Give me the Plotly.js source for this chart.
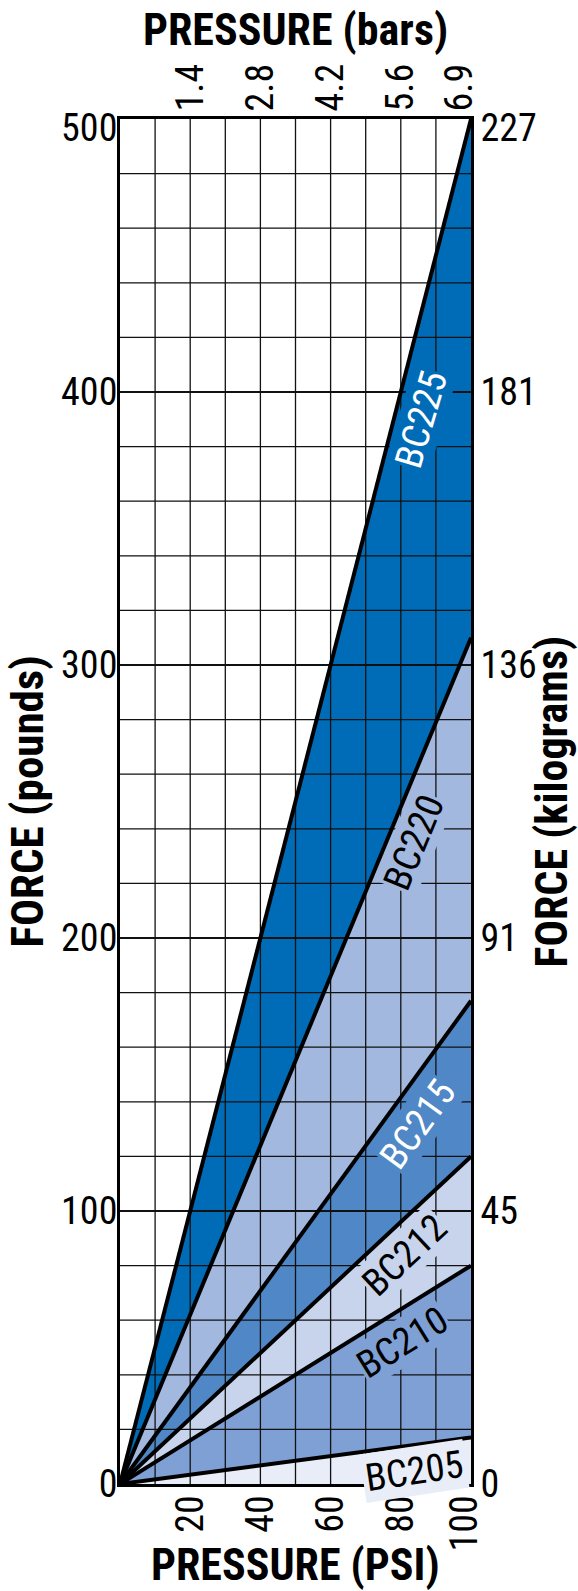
<!DOCTYPE html>
<html>
<head>
<meta charset="utf-8">
<script src="https://cdn.plot.ly/plotly-3.0.1.min.js"></script>
<style>
  html, body { margin: 0; padding: 0; background: #ffffff; }
  #chart { width: 578px; height: 1591px; }
</style>
</head>
<body>
<div id="chart"></div>
<script>
// Bellows cylinder force vs. supply pressure
const models = ['BC205', 'BC210', 'BC212', 'BC215', 'BC220', 'BC225'];
const forceAt100psi = [17, 80, 120, 177, 310, 500];   // pounds of force at 100 PSI
const psiPoints = [0, 100];

const psiTicks = [20, 40, 60, 80, 100];
const psiLabels = ['20', '40', '60', '80', '100'];
const barLabels = ['1.4', '2.8', '4.2', '5.6', '6.9'];
const lbTicks = [0, 100, 200, 300, 400, 500];
const lbLabels = ['0', '100', '200', '300', '400', '500'];
const kgLabels = ['0', '45', '91', '136', '181', '227'];

// styling
const FONT = "'Roboto Condensed', 'Liberation Sans', sans-serif";
const MARGIN = {l: 120, r: 107, t: 119, b: 107};
const W = 578, H = 1591;
const plotW = W - MARGIN.l - MARGIN.r, plotH = H - MARGIN.t - MARGIN.b;
const bandColors = ['#e9edf7', '#7fa0d4', '#c7d4ec', '#5087c6', '#a3b8df', '#006cb7'];
const labelColors = ['#000', '#000', '#000', '#fff', '#000', '#fff'];
// label centre (PSI, lbs), set just below each line
const labelPlace = [
  {x: 83.9, y: 4.6},
  {x: 80.6, y: 52},
  {x: 81.1, y: 84},
  {x: 84.8, y: 132},
  {x: 83.9, y: 235},
  {x: 85.9, y: 390}
];

const traces = [];

// filled bands between successive model lines
models.forEach((m, i) => {
  traces.push({
    x: psiPoints,
    y: psiPoints.map(p => forceAt100psi[i] * p / 100),
    mode: 'lines',
    line: {width: 0},
    fill: i === 0 ? 'tozeroy' : 'tonexty',
    fillcolor: bandColors[i],
    hoverinfo: 'skip',
    showlegend: false
  });
});

// grid on top of the bands
function gridTrace(xs, ys, w) {
  return {x: xs, y: ys, mode: 'lines', line: {color: '#111', width: w},
          hoverinfo: 'skip', showlegend: false};
}
const minX = [], minY = [], majX = [], majY = [];
for (let p = 10; p < 100; p += 10) { minX.push(p, p, null); minY.push(0, 500, null); }
for (let f = 20; f < 500; f += 20) {
  if (f % 100 === 0) { majX.push(0, 100, null); majY.push(f, f, null); }
  else { minX.push(0, 100, null); minY.push(f, f, null); }
}
traces.push(gridTrace(minX, minY, 1.3));
traces.push(gridTrace(majX, majY, 2.2));

// model lines
models.forEach((m, i) => {
  traces.push({
    x: psiPoints,
    y: psiPoints.map(p => forceAt100psi[i] * p / 100),
    mode: 'lines',
    line: {color: '#000', width: 4},
    name: m,
    hoverinfo: 'skip',
    showlegend: false
  });
});

// dummy trace so the top and right axes are drawn
traces.push({x: [0], y: [0], xaxis: 'x2', yaxis: 'y2', mode: 'markers',
             marker: {opacity: 0}, hoverinfo: 'skip', showlegend: false});

const tickFont = {family: FONT, size: 38, color: '#000'};
const titleFont = {family: FONT, size: 44, color: '#000', weight: 'bold'};

// nudge the end labels inward, away from the corner labels
const psiLabelPos = psiTicks.map((v, i) => i === psiTicks.length - 1 ? v - 1.7 : v);
const barLabelPos = psiTicks.map((v, i) => i === psiTicks.length - 1 ? v - 3.1 : v);
const lbLabelPos = lbTicks.map((v, i) => i === lbTicks.length - 1 ? v - 3 : v);

// text follows the on-screen slope of its line
function lineAngle(v) {
  return -Math.atan((v / 500 * plotH) / plotW) * 180 / Math.PI;
}

const annotations = models.map((m, i) => ({
  x: labelPlace[i].x, y: labelPlace[i].y, xref: 'x', yref: 'y',
  text: m, showarrow: false,
  textangle: i === 0 ? lineAngle(forceAt100psi[i]) - 1 : lineAngle(forceAt100psi[i]) + (i === 5 ? 2 : 0),
  xanchor: 'center', yanchor: 'middle',
  font: {family: FONT, size: 38, color: labelColors[i]},
  bgcolor: bandColors[i], borderpad: i === 0 ? 2 : 0
}));

annotations.push(
  {text: 'PRESSURE (bars)', xref: 'paper', yref: 'paper', x: 0.5, y: 1, yshift: 89,
   xanchor: 'center', yanchor: 'middle', showarrow: false, font: titleFont},
  {text: 'PRESSURE (PSI)', xref: 'paper', yref: 'paper', x: 0.5, y: 0, yshift: -81,
   xanchor: 'center', yanchor: 'middle', showarrow: false, font: titleFont},
  {text: 'FORCE (pounds)', xref: 'paper', yref: 'paper', x: 0, y: 0.5, xshift: -93,
   xanchor: 'center', yanchor: 'middle', textangle: -90, showarrow: false,
   font: Object.assign({}, titleFont, {size: 45})},
  {text: 'FORCE (kilograms)', xref: 'paper', yref: 'paper', x: 1, y: 0.5, xshift: 80,
   xanchor: 'center', yanchor: 'middle', textangle: -90, showarrow: false, font: titleFont}
);

const axisBase = {showgrid: false, zeroline: false, showline: true, linecolor: '#000',
                  linewidth: 3, ticks: '', tickfont: tickFont, fixedrange: true};

const layout = {
  width: W, height: H,
  margin: MARGIN,
  paper_bgcolor: '#ffffff', plot_bgcolor: '#ffffff',
  showlegend: false, hovermode: false,
  xaxis: Object.assign({}, axisBase, {
    range: [0, 100], tickmode: 'array', tickvals: psiLabelPos, ticktext: psiLabels,
    tickangle: -90, ticklabelstandoff: -7
  }),
  xaxis2: Object.assign({}, axisBase, {
    range: [0, 100], overlaying: 'x', side: 'top', anchor: 'y',
    tickmode: 'array', tickvals: barLabelPos, ticktext: barLabels,
    tickangle: -90, ticklabelstandoff: -3
  }),
  yaxis: Object.assign({}, axisBase, {
    range: [0, 500], tickmode: 'array', tickvals: lbLabelPos, ticktext: lbLabels,
    ticklabelstandoff: -8
  }),
  yaxis2: Object.assign({}, axisBase, {
    range: [0, 500], overlaying: 'y', side: 'right', anchor: 'x',
    tickmode: 'array', tickvals: lbLabelPos, ticktext: kgLabels,
    ticklabelstandoff: -1
  }),
  annotations: annotations
};

Plotly.newPlot('chart', traces, layout, {displayModeBar: false, staticPlot: true});
</script>
</body>
</html>
